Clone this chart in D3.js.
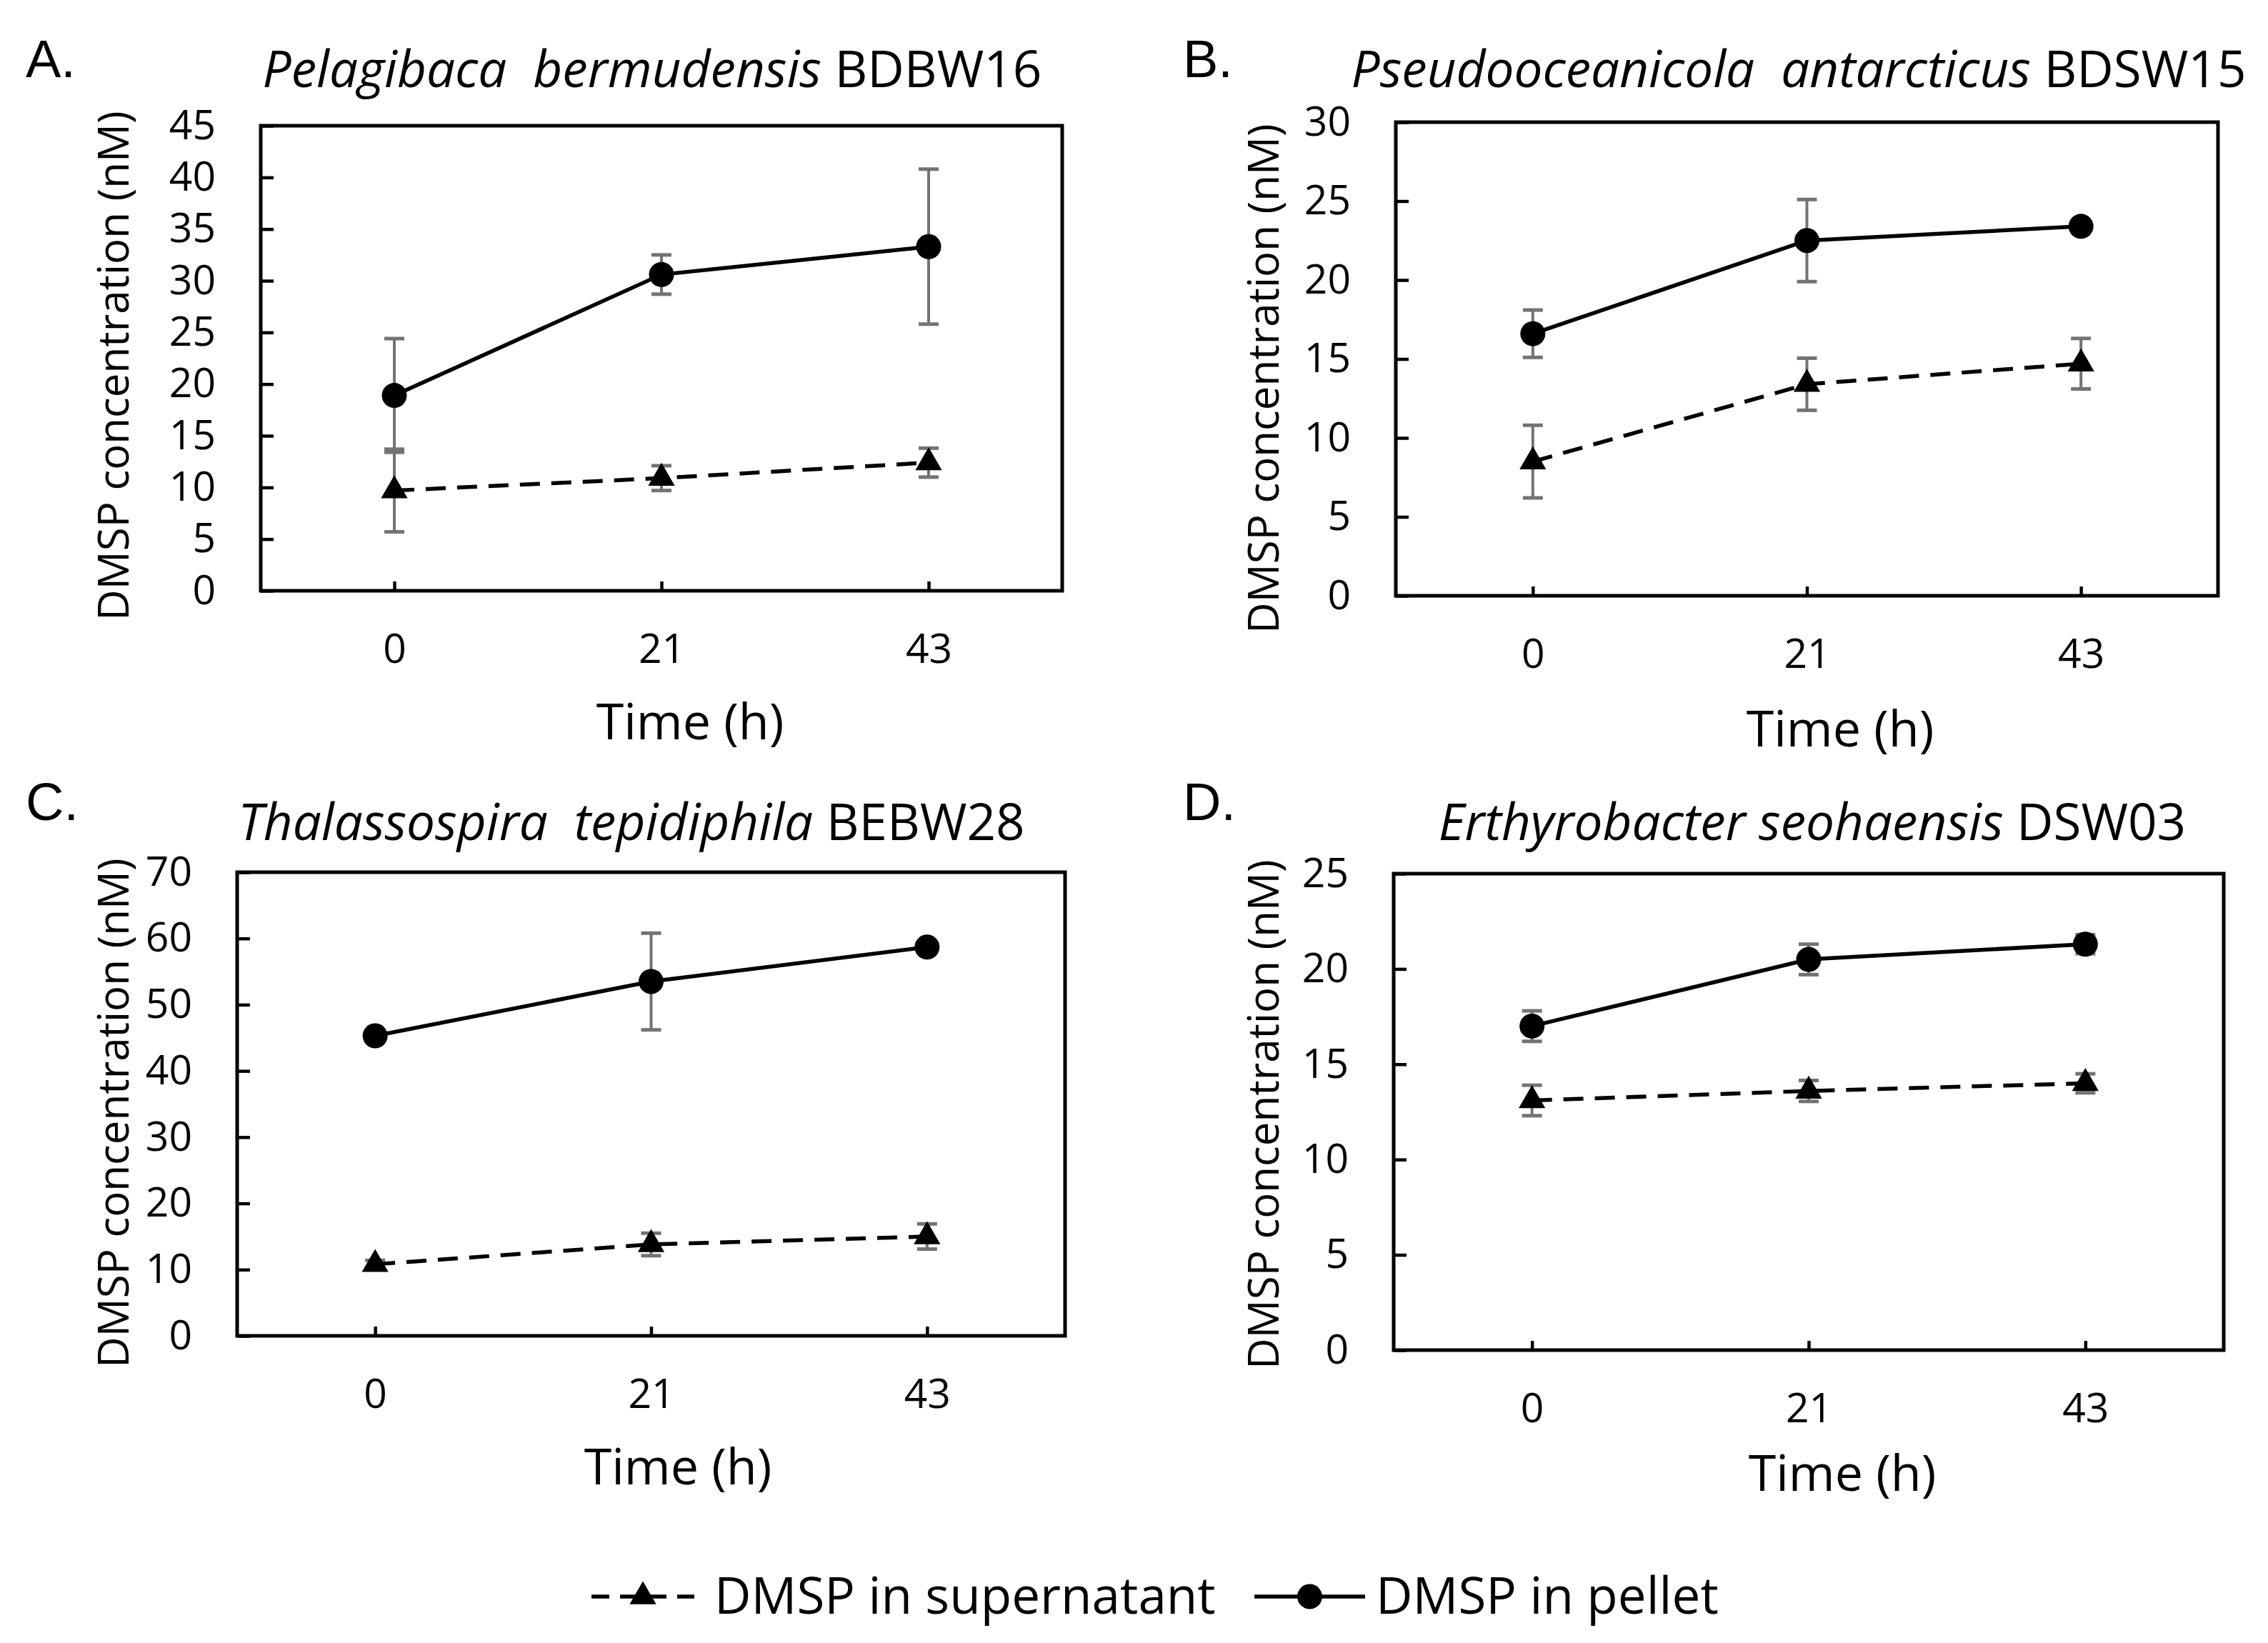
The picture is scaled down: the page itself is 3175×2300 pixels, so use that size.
<!DOCTYPE html>
<html>
<head>
<meta charset="utf-8">
<script src="https://cdn.jsdelivr.net/npm/d3@7"></script>
<style>
  body { margin: 0; background: #fff; }
  svg { display: block; }
  text { white-space: pre; }
</style>
</head>
<body>
<div id="figure"></div>
<script>
// values (nM), one entry per panel A-D
const HOURS = ['0', '21', '43'];
const PANEL_LETTERS = ['A.', 'B.', 'C.', 'D.'];
const SPECIES = ['Pelagibaca  bermudensis', 'Pseudooceanicola  antarcticus', 'Thalassospira  tepidiphila', 'Erthyrobacter seohaensis'];
const STRAINS = ['BDBW16', 'BDSW15', 'BEBW28', 'DSW03'];
const Y_MAX = [45, 30, 70, 25];
const Y_STEP = [5, 5, 10, 5];
const PELLET = [[18.9, 30.6, 33.3], [16.6, 22.5, 23.4], [45.3, 53.5, 58.7], [17.0, 20.5, 21.3]];
const PELLET_ERR = [[5.5, 1.9, 7.5], [1.5, 2.6, 0.3], [0.8, 7.3, 0.6], [0.8, 0.8, 0.5]];
const SUPERNATANT = [[9.7, 10.9, 12.4], [8.5, 13.4, 14.7], [10.8, 13.8, 15.0], [13.1, 13.6, 14.0]];
const SUPERNATANT_ERR = [[4.0, 1.2, 1.4], [2.3, 1.65, 1.6], [0.6, 1.7, 1.9], [0.8, 0.55, 0.5]];
const LEGEND_LABELS = ['DMSP in supernatant', 'DMSP in pellet'];

const width = 3175;
const height = 2300;
const FONT = "'Open Sans', sans-serif";

// panel frames in page pixels
const frames = [
  { x0: 365, x1: 1487, y0: 176, y1: 827, letter: [36, 108], title: [913, 122], yTitle: [180, 512], xTitle: [966, 1035] },
  { x0: 1954, x1: 3105, y0: 171, y1: 834, letter: [1656, 108], title: [2518, 122], yTitle: [1790, 530], xTitle: [2576, 1045] },
  { x0: 332, x1: 1491, y0: 1221, y1: 1870, letter: [36, 1148], title: [884, 1176], yTitle: [180, 1558], xTitle: [949, 2078] },
  { x0: 1951, x1: 3113, y0: 1223, y1: 1890, letter: [1656, 1148], title: [2537, 1176], yTitle: [1790, 1560], xTitle: [2579, 2087] }
];

const svg = d3.select('#figure').append('svg')
  .attr('width', width)
  .attr('height', height)
  .attr('viewBox', [0, 0, width, height].join(' '));

svg.append('rect').attr('width', width).attr('height', height).attr('fill', '#fff');

const triangle = d3.symbol().type(d3.symbolTriangle).size(600);

frames.forEach((f, i) => {
  const w = f.x1 - f.x0;
  const h = f.y1 - f.y0;

  const x = d3.scalePoint().domain(HOURS).range([0, w]).padding(0.5);
  const y = d3.scaleLinear().domain([0, Y_MAX[i]]).range([h, 0]);

  // panel letter and title
  svg.append('text')
    .attr('x', f.letter[0]).attr('y', f.letter[1])
    .attr('font-family', "'Liberation Sans', Arial, sans-serif")
    .attr('font-size', 74)
    .text(PANEL_LETTERS[i]);

  const title = svg.append('text')
    .attr('x', f.title[0]).attr('y', f.title[1])
    .attr('text-anchor', 'middle')
    .attr('font-family', FONT)
    .attr('font-size', 71);
  title.append('tspan').attr('font-style', 'italic').text(SPECIES[i]);
  title.append('tspan').text(' ' + STRAINS[i]);

  const g = svg.append('g').attr('transform', `translate(${f.x0},${f.y0})`);

  // axes, ticks point into the plot like the original
  const yAxis = g.append('g')
    .call(d3.axisLeft(y)
      .tickValues(d3.range(0, Y_MAX[i] + 0.001, Y_STEP[i]))
      .tickSizeInner(-18).tickSizeOuter(0).tickPadding(63));
  const xAxis = g.append('g')
    .attr('transform', `translate(0,${h})`)
    .call(d3.axisBottom(x).tickSizeInner(-13).tickSizeOuter(0).tickPadding(61));

  [yAxis, xAxis].forEach(ax => {
    ax.select('.domain').remove();
    ax.selectAll('line').attr('stroke', '#000').attr('stroke-width', 4.5);
    ax.selectAll('text').attr('font-family', FONT).attr('font-size', 57).attr('fill', '#000');
  });

  g.append('rect')
    .attr('width', w).attr('height', h)
    .attr('fill', 'none').attr('stroke', '#000').attr('stroke-width', 5);

  // axis titles
  svg.append('text')
    .attr('transform', `translate(${f.yTitle[0]},${f.yTitle[1]}) rotate(-90)`)
    .attr('text-anchor', 'middle')
    .attr('font-family', FONT).attr('font-size', 60)
    .text('DMSP concentration (nM)');
  svg.append('text')
    .attr('x', f.xTitle[0]).attr('y', f.xTitle[1])
    .attr('text-anchor', 'middle')
    .attr('font-family', FONT).attr('font-size', 70)
    .text('Time (h)');

  const series = [
    { values: SUPERNATANT[i], errs: SUPERNATANT_ERR[i], dash: '28,16', marker: 'triangle' },
    { values: PELLET[i], errs: PELLET_ERR[i], dash: null, marker: 'circle' }
  ];

  const line = d3.line().x((d, j) => x(HOURS[j])).y(d => y(d));

  series.forEach(s => {
    const pts = s.values.map((v, j) => ({ hour: HOURS[j], v, e: s.errs[j] }));

    const eg = g.append('g').attr('stroke', '#737373').attr('stroke-width', 4);
    eg.selectAll('.err')
      .data(pts).join('line')
      .attr('x1', d => x(d.hour)).attr('x2', d => x(d.hour))
      .attr('y1', d => y(d.v - d.e)).attr('y2', d => y(d.v + d.e));
    eg.selectAll('.cap')
      .data(pts.flatMap(d => [d.v - d.e, d.v + d.e].map(c => ({ hour: d.hour, c }))))
      .join('line')
      .attr('stroke-width', 5)
      .attr('x1', d => x(d.hour) - 14).attr('x2', d => x(d.hour) + 14)
      .attr('y1', d => y(d.c)).attr('y2', d => y(d.c));

    g.append('path')
      .datum(s.values)
      .attr('fill', 'none')
      .attr('stroke', '#000')
      .attr('stroke-width', 5.5)
      .attr('stroke-dasharray', s.dash)
      .attr('d', line);

    if (s.marker === 'circle') {
      g.selectAll(null).data(pts).join('circle')
        .attr('cx', d => x(d.hour)).attr('cy', d => y(d.v))
        .attr('r', 17.5).attr('fill', '#000');
    } else {
      g.selectAll(null).data(pts).join('path')
        .attr('d', triangle)
        .attr('transform', d => `translate(${x(d.hour)},${y(d.v)})`)
        .attr('fill', '#000');
    }
  });
});

// legend
const legend = svg.append('g').attr('font-family', FONT).attr('font-size', 71);
const legendItems = [
  { label: LEGEND_LABELS[0], x0: 828, x1: 972, dash: '25,15', marker: 'triangle', tx: 1000 },
  { label: LEGEND_LABELS[1], x0: 1756, x1: 1911, dash: null, marker: 'circle', tx: 1926 }
];
const legendY = 2235;
legendItems.forEach(it => {
  legend.append('line')
    .attr('x1', it.x0).attr('x2', it.x1)
    .attr('y1', legendY).attr('y2', legendY)
    .attr('stroke', '#000').attr('stroke-width', 5.5)
    .attr('stroke-dasharray', it.dash);
  const cx = (it.x0 + it.x1) / 2;
  if (it.marker === 'circle') {
    legend.append('circle').attr('cx', cx).attr('cy', legendY).attr('r', 17.5).attr('fill', '#000');
  } else {
    legend.append('path').attr('d', triangle)
      .attr('transform', `translate(${cx},${legendY})`).attr('fill', '#000');
  }
  legend.append('text')
    .attr('x', it.tx).attr('y', legendY + 24)
    .text(it.label);
});
</script>
</body>
</html>
